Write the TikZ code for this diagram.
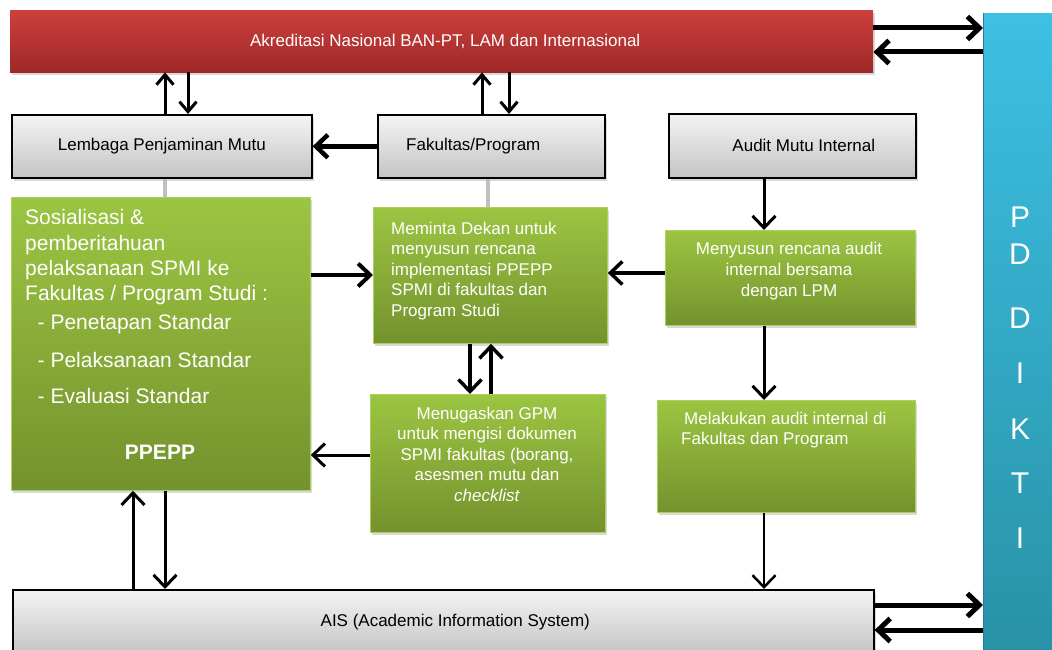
\documentclass[tikz,border=0pt]{standalone}
\usepackage{fontspec}
\setmainfont{Liberation Sans}
\usetikzlibrary{arrows.meta,shadows}
\definecolor{redT}{RGB}{204,64,60}
\definecolor{redB}{RGB}{158,40,40}
\definecolor{grayT}{RGB}{244,244,244}
\definecolor{grayB}{RGB}{196,196,196}
\definecolor{greenT}{RGB}{156,197,66}
\definecolor{greenB}{RGB}{116,146,45}
\definecolor{greenE}{RGB}{172,208,92}
\definecolor{blueT}{RGB}{62,192,228}
\definecolor{blueB}{RGB}{40,146,166}
\definecolor{blueE}{RGB}{44,120,150}
\definecolor{linkgray}{RGB}{192,192,192}
\tikzset{
  box/.style={rectangle, inner sep=0pt, anchor=north west},
  shad/.style={drop shadow={opacity=0.3, shadow xshift=2pt, shadow yshift=-3pt}},
  redbox/.style={box, top color=redT, bottom color=redB, shad, text=white, font=\fontsize{17}{20.5}\selectfont},
  graybox/.style={box, draw=black, line width=1.6pt, top color=grayT, bottom color=grayB, shad, text=black, font=\fontsize{17}{20.5}\selectfont},
  greenbox/.style={box, draw=greenE, line width=0.8pt, top color=greenT, bottom color=greenB, shad},
  bluebox/.style={box, top color=blueT, bottom color=blueB},
  wt/.style={text=white, inner sep=0pt, font=\fontsize{17}{20.5}\selectfont},
  ar/.style={line width=#1, -{Straight Barb[length=12pt,width=23pt]}},
  arS/.style={line width=#1, -{Straight Barb[length=10pt,width=17pt]}},
  glink/.style={line width=4pt, draw=linkgray},
}
\begin{document}
\begin{tikzpicture}[x=1pt,y=-1pt]
\useasboundingbox (0,0) rectangle (1052,650);
% boxes
\node[bluebox, minimum width=69pt, minimum height=640pt] (pdikti) at (983,13) {};
\draw[blueE, line width=1pt] (pdikti.north west) -- (pdikti.south west);
\node[redbox, minimum width=863pt, minimum height=62pt] (akr) at (10,10) {\hspace*{7pt}Akreditasi Nasional BAN-PT, LAM dan Internasional};
\node[graybox, minimum width=300pt, minimum height=63pt] (lpm) at (11,114) {Lembaga Penjaminan Mutu};
\node[graybox, minimum width=227pt, minimum height=63pt] (fak) at (377,114) {Fakultas/Program\hspace*{36pt}};
\node[graybox, minimum width=247pt, minimum height=64pt] (ami) at (668,113) {\hspace*{23pt}Audit Mutu Internal};
\node[graybox, minimum width=861pt, minimum height=64pt] (ais) at (12,589) {\hspace*{24pt}AIS (Academic Information System)};

\node[greenbox, minimum width=299pt, minimum height=293pt] (sos) at (11,197) {};
\node[greenbox, minimum width=234pt, minimum height=136pt] (mem) at (373,207) {};
\node[greenbox, minimum width=235pt, minimum height=138pt] (mng) at (370,394) {};
\node[greenbox, minimum width=250pt, minimum height=95pt] (mys) at (665,230) {};
\node[greenbox, minimum width=258pt, minimum height=112pt] (mel) at (657,400) {};

% texts in green / blue boxes
\node[wt, anchor=north west, align=left, font=\fontsize{21}{25.3}\selectfont] (sosT) at (25,209.5)
 {Sosialisasi \&\\ pemberitahuan\\ pelaksanaan SPMI ke\\ Fakultas / Program Studi :\\[3.7pt]
  \hspace*{12.5pt}- Penetapan Standar\\[12.7pt]
  \hspace*{12.5pt}- Pelaksanaan Standar\\[10.7pt]
  \hspace*{12.5pt}- Evaluasi Standar};
\node[wt, anchor=base, font=\fontsize{21}{25}\selectfont\bfseries] (ppepp) at (160,459) {PPEPP};
\node[wt, anchor=north west, align=left] (memT) at (391,221.5)
 {Meminta Dekan untuk\\ menyusun rencana\\ implementasi PPEPP\\ SPMI di fakultas dan\\ Program Studi};
\node[wt, anchor=north, align=center] (mngT) at (487,406.5)
 {Menugaskan GPM\\ untuk mengisi dokumen\\ SPMI fakultas (borang,\\ asesmen mutu dan\\ \textit{checklist}};
\node[wt, anchor=north, align=center, font=\fontsize{17}{21}\selectfont] (mysT) at (789,241.5)
 {Menyusun rencana audit\\ internal bersama\\ dengan LPM};
\node[wt, anchor=north west, align=left, font=\fontsize{17}{20}\selectfont] (melT) at (681,411.5)
 {\hspace*{3pt}Melakukan audit internal di\\ Fakultas dan Program};
\node[wt, anchor=north, align=center, font=\fontsize{30}{37}\selectfont] (pdT) at (1020,206.5)
 {P\\ D\\[27pt] D\\[18pt] I\\[19pt] K\\[17pt] T\\[18pt] I};

% grey links
\draw[glink] ([xshift=154pt]lpm.south west) -- ([xshift=154pt]lpm.south west |- sos.north);
\draw[glink] ([xshift=111pt]fak.south west) -- ([xshift=111pt]fak.south west |- mem.north);

% arrows to / from PDIKTI
\draw[ar=5pt] ([yshift=-18pt]akr.north east) -- ([yshift=-18pt]akr.north east -| pdikti.west);
\draw[ar=5pt] ([yshift=-42pt]akr.north east -| pdikti.west) -- ([yshift=-42pt]akr.north east);
\draw[ar=5pt] ([yshift=-16pt]ais.north east) -- ([yshift=-16pt]ais.north east -| pdikti.west);
\draw[ar=5pt] ([yshift=-41pt]ais.north east -| pdikti.west) -- ([yshift=-41pt]ais.north east);

% red <-> grey boxes
\draw[arS=3pt] ([xshift=154pt]lpm.north west) -- ([xshift=154pt]lpm.north west |- akr.south);
\draw[arS=3pt] ([xshift=177pt]lpm.north west |- akr.south) -- ([xshift=177pt]lpm.north west);
\draw[arS=3pt] ([xshift=105pt]fak.north west) -- ([xshift=105pt]fak.north west |- akr.south);
\draw[arS=3pt] ([xshift=132pt]fak.north west |- akr.south) -- ([xshift=132pt]fak.north west);
\draw[ar=4.5pt] (fak.west) -- (lpm.east);

% audit column
\draw[ar=3pt] ([xshift=96pt]ami.south west) -- ([xshift=96pt]ami.south west |- mys.north);
\draw[ar=3pt] ([xshift=99pt]mys.south west) -- ([xshift=99pt]mys.south west |- mel.north);
\draw[ar=2.5pt] ([xshift=107pt]mel.south west) -- ([xshift=107pt]mel.south west |- ais.north);

% middle
\draw[ar=4pt] ([yshift=-78pt]sos.north east) -- ([yshift=-78pt]sos.north east -| mem.west);
\draw[ar=3.5pt] ([yshift=-43pt]mys.north west) -- ([yshift=-43pt]mys.north west -| mem.east);
\draw[ar=3.5pt] ([xshift=97pt]mem.south west) -- ([xshift=97pt]mem.south west |- mng.north);
\draw[ar=3.5pt] ([xshift=118pt]mem.south west |- mng.north) -- ([xshift=118pt]mem.south west);
\draw[ar=3pt] ([yshift=-61pt]mng.north west) -- ([yshift=-61pt]mng.north west -| sos.east);

% green <-> AIS
\draw[ar=3pt] ([xshift=122pt]sos.south west |- ais.north) -- ([xshift=122pt]sos.south west);
\draw[ar=3pt] ([xshift=154pt]sos.south west) -- ([xshift=154pt]sos.south west |- ais.north);
\end{tikzpicture}
\end{document}
